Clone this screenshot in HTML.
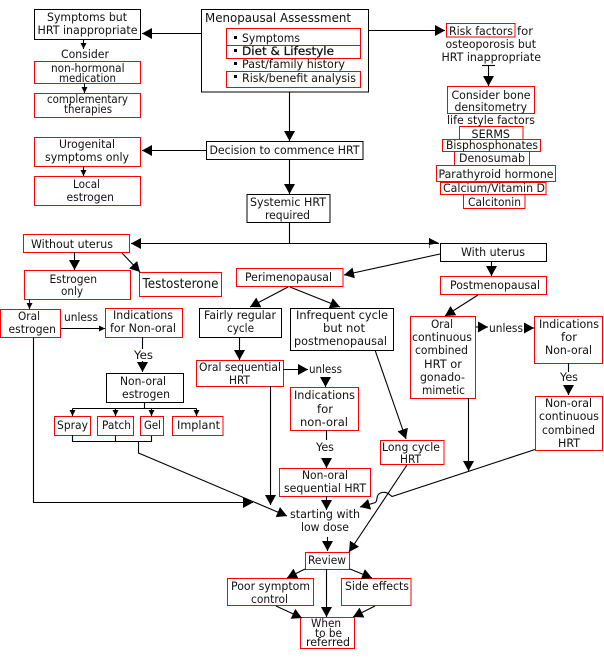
<!DOCTYPE html>
<html><head><meta charset="utf-8"><style>
html,body{margin:0;padding:0;background:#fff}
svg{display:block}
text{font-family:"DejaVu Sans","Liberation Sans",sans-serif;font-size:11.5px;fill:#111}
.r{fill:#fff;stroke:#f00;stroke-width:1}
.b{fill:#fff;stroke:#000;stroke-width:1}
.l{fill:none;stroke:#000;stroke-width:1.1}
</style></head><body>
<svg xmlns="http://www.w3.org/2000/svg" width="604" height="658" viewBox="0 0 604 658">
<defs>
<marker id="a" markerUnits="userSpaceOnUse" markerWidth="12" markerHeight="12" refX="10" refY="5.5" orient="auto"><path d="M0 0L10 5.5L0 11z"/></marker>
<marker id="s" markerUnits="userSpaceOnUse" markerWidth="7" markerHeight="7" refX="6" refY="3" orient="auto"><path d="M0 0L6 3L0 6z"/></marker>
</defs>
<rect width="604" height="658" fill="#fff"/>
<!-- boxes -->
<rect class="b" x="34.5" y="9.5" width="106" height="30"/>
<rect class="r" x="34.5" y="61.5" width="106" height="22"/>
<rect class="r" x="34.5" y="93.5" width="106" height="24"/>
<rect class="r" x="34.5" y="137.5" width="106" height="29"/>
<rect class="r" x="34.5" y="176.5" width="106" height="29"/>
<rect class="b" x="201.5" y="9.5" width="167" height="82.5"/>
<rect class="r" x="226.5" y="28.5" width="134" height="17"/>
<rect class="r" x="226.5" y="45.5" width="134" height="13"/>
<rect class="r" x="226.5" y="71.5" width="134" height="16"/>
<rect class="b" x="206.5" y="141.5" width="156.5" height="18"/>
<rect class="b" x="247" y="194.5" width="83" height="28"/>
<rect class="r" x="446.5" y="23.5" width="68.5" height="13.5"/>
<rect class="r" x="447.5" y="86.5" width="87" height="27"/>
<rect class="r" x="459.5" y="126.5" width="63.5" height="13"/>
<rect class="r" x="442.5" y="139.5" width="98" height="12"/>
<rect class="r" x="454.5" y="151.5" width="75" height="14"/>
<rect class="r" x="436.5" y="165.5" width="119" height="16"/>
<rect class="r" x="440.5" y="182.5" width="105.5" height="12"/>
<rect class="r" x="463.5" y="194.5" width="61.5" height="14"/>
<rect class="r" x="23.5" y="234.5" width="106" height="18"/>
<rect class="r" x="24.5" y="270.5" width="106" height="29"/>
<rect class="r" x="139.5" y="272.5" width="82" height="24"/>
<rect class="r" x="236.5" y="268.5" width="106.5" height="18"/>
<rect class="r" x="0.5" y="309.5" width="60" height="28"/>
<rect class="r" x="105.5" y="308.5" width="77" height="29"/>
<rect class="b" x="106.5" y="373.5" width="77" height="29"/>
<rect class="r" x="54.5" y="416.5" width="36" height="19"/>
<rect class="r" x="97.5" y="416.5" width="36" height="19"/>
<rect class="r" x="140.5" y="416.5" width="23" height="19"/>
<rect class="r" x="172.5" y="416.5" width="50.5" height="19"/>
<rect class="b" x="199.5" y="308.5" width="82" height="29"/>
<rect class="b" x="290.5" y="308.5" width="103" height="42"/>
<rect class="r" x="196.5" y="360.5" width="87" height="26"/>
<rect class="r" x="290.5" y="387.5" width="68" height="43"/>
<rect class="b" x="440.5" y="243.5" width="106" height="18"/>
<rect class="r" x="440.5" y="276.5" width="106" height="18"/>
<rect class="r" x="410.5" y="316.5" width="65" height="82"/>
<rect class="r" x="534.5" y="316.5" width="68" height="47"/>
<rect class="r" x="535.5" y="396.5" width="67" height="54"/>
<rect class="r" x="380.5" y="440.5" width="63.5" height="24"/>
<rect class="r" x="279.5" y="468.5" width="91" height="28"/>
<rect class="r" x="305.5" y="552.5" width="44" height="17"/>
<rect class="r" x="227.5" y="578.5" width="86" height="27"/>
<rect class="r" x="341.5" y="578.5" width="69.5" height="27"/>
<rect class="r" x="300.5" y="617.5" width="54" height="31"/>
<!-- connectors -->
<g class="l">
<path d="M201 33.5H142" marker-end="url(#a)"/>
<path d="M83.5 39.5V49" marker-end="url(#s)"/>
<path d="M84.5 83.5V93" marker-end="url(#s)"/>
<path d="M83.5 166.5V176" marker-end="url(#s)"/>
<path d="M206 150.5H142" marker-end="url(#a)"/>
<path d="M289.5 92V141" marker-end="url(#a)"/>
<path d="M289.5 159V194" marker-end="url(#a)"/>
<path d="M369 30.5H445" marker-end="url(#a)"/>
<path d="M482 65.5H495"/>
<path d="M488.5 65.5V86" marker-end="url(#a)"/>
<path d="M289.5 222V243.5"/>
<path d="M439 243.5H131"/>
<path d="M141 243.5H131" marker-end="url(#a)"/>
<path d="M429.5 238V248" stroke="#777"/>
<path d="M440 254L344 275" marker-end="url(#a)"/>
<path d="M491.5 261V276" marker-end="url(#a)"/>
<path d="M478 295L445 316" marker-end="url(#a)"/>
<path d="M74.5 252V270" marker-end="url(#a)"/>
<path d="M122 253L140 272" marker-end="url(#a)"/>
<path d="M29.5 299V309" marker-end="url(#s)"/>
<path d="M61 328.5H105" marker-end="url(#s)"/>
<path d="M142.5 337V349"/>
<path d="M142.5 361V372" marker-end="url(#a)"/>
<path d="M144.5 402V408.5M72.5 408.5H196.5"/>
<path d="M72.5 408.5V416" marker-end="url(#s)"/>
<path d="M115.5 408.5V416" marker-end="url(#s)"/>
<path d="M151.5 408.5V416" marker-end="url(#s)"/>
<path d="M196.5 408.5V416" marker-end="url(#s)"/>
<path d="M72.5 435V441.5H151.5V435M115.5 435V441.5"/>
<path d="M138.5 441.5V453L287 516" marker-end="url(#a)"/>
<path d="M33.5 337V502.5H253" marker-end="url(#a)"/>
<path d="M270.5 386V505" marker-end="url(#a)"/>
<path d="M288 287L250 307" marker-end="url(#a)"/>
<path d="M290 287L340 307" marker-end="url(#a)"/>
<path d="M239.5 337V360" marker-end="url(#a)"/>
<path d="M283 369.5H308" marker-end="url(#a)"/>
<path d="M325.5 379V387" marker-end="url(#a)"/>
<path d="M326.5 430V440M326.5 458V468" marker-end="url(#a)"/>
<path d="M326.5 496V510" marker-end="url(#a)"/>
<path d="M327.5 537V551" marker-end="url(#a)"/>
<path d="M375 350L406 439" marker-end="url(#a)"/>
<path d="M407 465L349 552" marker-end="url(#a)"/>
<path d="M535 449.5L392 496.5L390 495C386 491 380 492 378 495C376 498 378 502 374 503L360 507" marker-end="url(#a)"/>
<path d="M468.5 398V471" marker-end="url(#a)"/>
<path d="M476 327H488" marker-end="url(#a)"/>
<path d="M524 328H534" marker-end="url(#a)"/>
<path d="M568.5 363V372M568.5 385V395" marker-end="url(#a)"/>
<path d="M305 569L287 578" marker-end="url(#a)"/>
<path d="M350 569L372 578" marker-end="url(#a)"/>
<path d="M326.5 569V617" marker-end="url(#a)"/>
<path d="M276 606L302 618" marker-end="url(#a)"/>
<path d="M375 606L353 617" marker-end="url(#a)"/>
</g>
<path d="M429 238L439 243L429 245z" fill="#000"/>
<!-- bullets -->
<rect x="234" y="36" width="3" height="3"/><rect x="234" y="49" width="3" height="3"/><rect x="234" y="62" width="3" height="3"/><rect x="234" y="75" width="3" height="3"/>
<!-- labels -->
<g>
<text x="47" y="21" textLength="80" lengthAdjust="spacingAndGlyphs">Symptoms but</text>
<text x="37.5" y="34" textLength="100" lengthAdjust="spacingAndGlyphs">HRT inappropriate</text>
<text x="61" y="58" textLength="48" lengthAdjust="spacingAndGlyphs">Consider</text>
<text x="51" y="72" textLength="73.5" lengthAdjust="spacingAndGlyphs">non-hormonal</text>
<text x="59" y="82" textLength="57" lengthAdjust="spacingAndGlyphs">medication</text>
<text x="47" y="103" textLength="81" lengthAdjust="spacingAndGlyphs">complementary</text>
<text x="64" y="113" textLength="48" lengthAdjust="spacingAndGlyphs">therapies</text>
<text x="59" y="148" textLength="56" lengthAdjust="spacingAndGlyphs">Urogenital</text>
<text x="45" y="161" textLength="84" lengthAdjust="spacingAndGlyphs">symptoms only</text>
<text x="73" y="188" textLength="27" lengthAdjust="spacingAndGlyphs">Local</text>
<text x="66.5" y="201" textLength="47.5" lengthAdjust="spacingAndGlyphs">estrogen</text>
<text x="205" y="22" textLength="146" lengthAdjust="spacingAndGlyphs" style="font-size:12.5px">Menopausal Assessment</text>
<text x="242" y="42" textLength="58" lengthAdjust="spacingAndGlyphs">Symptoms</text>
<text x="242" y="55" textLength="92" lengthAdjust="spacingAndGlyphs" stroke="#111" stroke-width=".25">Diet &amp; Lifestyle</text>
<text x="242" y="68" textLength="103" lengthAdjust="spacingAndGlyphs">Past/family history</text>
<text x="242" y="82" textLength="114" lengthAdjust="spacingAndGlyphs">Risk/benefit analysis</text>
<text x="209.5" y="154" textLength="150" lengthAdjust="spacingAndGlyphs">Decision to commence HRT</text>
<text x="250" y="206" textLength="76" lengthAdjust="spacingAndGlyphs">Systemic HRT</text>
<text x="265" y="219" textLength="45" lengthAdjust="spacingAndGlyphs">required</text>
<text x="449" y="35" textLength="64" lengthAdjust="spacingAndGlyphs">Risk factors</text>
<text x="517" y="35" textLength="16" lengthAdjust="spacingAndGlyphs">for</text>
<text x="445.5" y="48" textLength="90.5" lengthAdjust="spacingAndGlyphs">osteoporosis but</text>
<text x="441.5" y="61" textLength="99.5" lengthAdjust="spacingAndGlyphs">HRT inappropriate</text>
<text x="451.5" y="99" textLength="79" lengthAdjust="spacingAndGlyphs">Consider bone</text>
<text x="454.5" y="111" textLength="72.5" lengthAdjust="spacingAndGlyphs">densitometry</text>
<text x="447" y="124" textLength="88" lengthAdjust="spacingAndGlyphs">life style factors</text>
<text x="471.5" y="138" textLength="38.5" lengthAdjust="spacingAndGlyphs">SERMS</text>
<text x="446" y="149" textLength="92" lengthAdjust="spacingAndGlyphs">Bisphosphonates</text>
<text x="459" y="162" textLength="66" lengthAdjust="spacingAndGlyphs">Denosumab</text>
<text x="438.5" y="178" textLength="115" lengthAdjust="spacingAndGlyphs">Parathyroid hormone</text>
<text x="443" y="192" textLength="102" lengthAdjust="spacingAndGlyphs">Calcium/Vitamin D</text>
<text x="468" y="206" textLength="53" lengthAdjust="spacingAndGlyphs">Calcitonin</text>
<text x="31" y="248" textLength="82" lengthAdjust="spacingAndGlyphs">Without uterus</text>
<text x="49.5" y="283" textLength="47.5" lengthAdjust="spacingAndGlyphs">Estrogen</text>
<text x="61" y="295" textLength="22" lengthAdjust="spacingAndGlyphs">only</text>
<text x="142.5" y="288" textLength="76" lengthAdjust="spacingAndGlyphs" style="font-size:13px">Testosterone</text>
<text x="18" y="320" textLength="22" lengthAdjust="spacingAndGlyphs">Oral</text>
<text x="8.5" y="333" textLength="47.5" lengthAdjust="spacingAndGlyphs">estrogen</text>
<text x="64" y="321" textLength="34" lengthAdjust="spacingAndGlyphs">unless</text>
<text x="113" y="319" textLength="60" lengthAdjust="spacingAndGlyphs">Indications</text>
<text x="110" y="332" textLength="66" lengthAdjust="spacingAndGlyphs">for Non-oral</text>
<text x="134" y="359" textLength="19" lengthAdjust="spacingAndGlyphs">Yes</text>
<text x="120" y="385" textLength="46" lengthAdjust="spacingAndGlyphs">Non-oral</text>
<text x="122" y="398" textLength="48" lengthAdjust="spacingAndGlyphs">estrogen</text>
<text x="57" y="429" textLength="31" lengthAdjust="spacingAndGlyphs">Spray</text>
<text x="102" y="429" textLength="29" lengthAdjust="spacingAndGlyphs">Patch</text>
<text x="144" y="429" textLength="17" lengthAdjust="spacingAndGlyphs">Gel</text>
<text x="177" y="429" textLength="43" lengthAdjust="spacingAndGlyphs">Implant</text>
<text x="204" y="319" textLength="72" lengthAdjust="spacingAndGlyphs">Fairly regular</text>
<text x="227" y="332" textLength="27" lengthAdjust="spacingAndGlyphs">cycle</text>
<text x="296" y="319" textLength="92" lengthAdjust="spacingAndGlyphs">Infrequent cycle</text>
<text x="323" y="332" textLength="42" lengthAdjust="spacingAndGlyphs">but not</text>
<text x="294" y="345" textLength="93" lengthAdjust="spacingAndGlyphs">postmenopausal</text>
<text x="245" y="281" textLength="87" lengthAdjust="spacingAndGlyphs">Perimenopausal</text>
<text x="199" y="371" textLength="82" lengthAdjust="spacingAndGlyphs">Oral sequential</text>
<text x="229" y="384" textLength="21" lengthAdjust="spacingAndGlyphs">HRT</text>
<text x="309" y="373" textLength="33" lengthAdjust="spacingAndGlyphs">unless</text>
<text x="294" y="399" textLength="61" lengthAdjust="spacingAndGlyphs">Indications</text>
<text x="317" y="413" textLength="16" lengthAdjust="spacingAndGlyphs">for</text>
<text x="300" y="426" textLength="48" lengthAdjust="spacingAndGlyphs">non-oral</text>
<text x="461" y="256" textLength="64" lengthAdjust="spacingAndGlyphs">With uterus</text>
<text x="450" y="289" textLength="90" lengthAdjust="spacingAndGlyphs">Postmenopausal</text>
<text x="431" y="328" textLength="22" lengthAdjust="spacingAndGlyphs">Oral</text>
<text x="412" y="341" textLength="60" lengthAdjust="spacingAndGlyphs">continuous</text>
<text x="415" y="354" textLength="53" lengthAdjust="spacingAndGlyphs">combined</text>
<text x="424" y="368" textLength="38" lengthAdjust="spacingAndGlyphs">HRT or</text>
<text x="420" y="381" textLength="45" lengthAdjust="spacingAndGlyphs">gonado-</text>
<text x="422" y="394" textLength="43" lengthAdjust="spacingAndGlyphs">mimetic</text>
<text x="489" y="332" textLength="34" lengthAdjust="spacingAndGlyphs">unless</text>
<text x="539" y="328" textLength="60" lengthAdjust="spacingAndGlyphs">Indications</text>
<text x="561" y="341" textLength="16" lengthAdjust="spacingAndGlyphs">for</text>
<text x="545" y="354" textLength="47" lengthAdjust="spacingAndGlyphs">Non-oral</text>
<text x="560" y="381" textLength="18" lengthAdjust="spacingAndGlyphs">Yes</text>
<text x="545" y="407" textLength="47" lengthAdjust="spacingAndGlyphs">Non-oral</text>
<text x="539" y="420" textLength="60" lengthAdjust="spacingAndGlyphs">continuous</text>
<text x="542" y="434" textLength="53" lengthAdjust="spacingAndGlyphs">combined</text>
<text x="558" y="447" textLength="22" lengthAdjust="spacingAndGlyphs">HRT</text>
<text x="382" y="451" textLength="58" lengthAdjust="spacingAndGlyphs">Long cycle</text>
<text x="400" y="463" textLength="21" lengthAdjust="spacingAndGlyphs">HRT</text>
<text x="316" y="451" textLength="18" lengthAdjust="spacingAndGlyphs">Yes</text>
<text x="302" y="479" textLength="46" lengthAdjust="spacingAndGlyphs">Non-oral</text>
<text x="284" y="492" textLength="82" lengthAdjust="spacingAndGlyphs">sequential HRT</text>
<text x="290" y="518" textLength="70" lengthAdjust="spacingAndGlyphs">starting with</text>
<text x="301" y="531" textLength="48" lengthAdjust="spacingAndGlyphs">low dose</text>
<text x="308" y="564" textLength="38" lengthAdjust="spacingAndGlyphs">Review</text>
<text x="231" y="590" textLength="79" lengthAdjust="spacingAndGlyphs">Poor symptom</text>
<text x="251" y="603" textLength="37" lengthAdjust="spacingAndGlyphs">control</text>
<text x="345" y="590" textLength="64" lengthAdjust="spacingAndGlyphs">Side effects</text>
<text x="311" y="627" textLength="30" lengthAdjust="spacingAndGlyphs">When</text>
<text x="315" y="637" textLength="27" lengthAdjust="spacingAndGlyphs">to be</text>
<text x="306" y="646" textLength="44" lengthAdjust="spacingAndGlyphs">referred</text>
</g>
</svg>
</body></html>
